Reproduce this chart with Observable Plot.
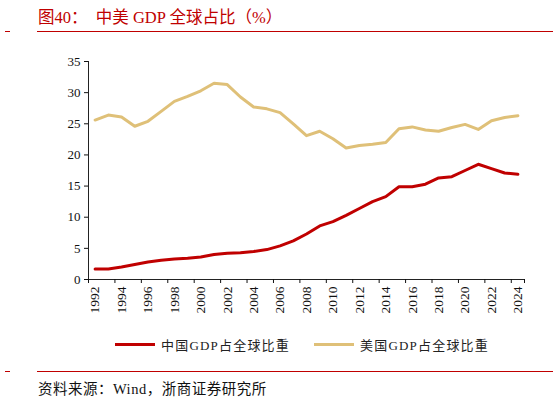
<!DOCTYPE html>
<html>
<head>
<meta charset="utf-8">
<script src="https://cdn.jsdelivr.net/npm/d3@7"></script>
<script src="https://cdn.jsdelivr.net/npm/@observablehq/plot@0.6"></script>
<style>
  body { margin: 0; background: #fff; width: 553px; height: 402px; position: relative; overflow: hidden;
         font-family: "Liberation Serif", "Noto Sans CJK SC", serif; }
  .abs { position: absolute; }
  .title { left: 38px; top: 4px; font-size: 16.5px; color: #c00000; white-space: pre; }
  .rule { height: 1.3px; background: #c00000; }
  .legend { top: 335px; font-size: 13px; letter-spacing: 1.2px; color: #222; display: flex; align-items: center; }
  .legend span.sw { display: inline-block; width: 40px; height: 3.5px; margin-right: 6px; }
  .source { left: 38px; top: 377px; font-size: 14.5px; letter-spacing: 0.5px; color: #111; }
  #chart { left: 0; top: 40px; }
</style>
</head>
<body>
<div class="abs title">图40：  中美 GDP 全球占比（%）</div>
<div class="abs rule" style="left:5px;top:31px;width:5px"></div>
<div class="abs rule" style="left:37px;top:31px;width:516px"></div>
<div id="legend"></div>
<div class="abs rule" style="left:5px;top:371px;width:5px"></div>
<div class="abs rule" style="left:37px;top:371px;width:516px"></div>
<div class="abs source">资料来源：Wind，浙商证券研究所</div>
<div id="chart" class="abs"></div>
<script>
// Years and shares of world GDP (%)
const years = d3.range(1992, 2025);
const chinaShare = [1.7, 1.7, 2.0, 2.4, 2.8, 3.1, 3.3, 3.4, 3.6, 4.0, 4.2, 4.3, 4.5, 4.8, 5.4, 6.2, 7.3,
                    8.6, 9.3, 10.3, 11.4, 12.5, 13.3, 14.9, 14.9, 15.3, 16.3, 16.5, 17.5, 18.5, 17.8, 17.1, 16.9];
const usShare = [25.6, 26.4, 26.1, 24.6, 25.4, 27.0, 28.6, 29.4, 30.3, 31.5, 31.3, 29.3, 27.7, 27.4, 26.8, 25.0, 23.1,
                 23.8, 22.6, 21.1, 21.5, 21.7, 22.0, 24.2, 24.5, 24.0, 23.8, 24.4, 24.9, 24.1, 25.5, 26.0, 26.3];
const seriesNames = ['中国GDP占全球比重', '美国GDP占全球比重'];
const seriesColors = ['#c00000', '#dfc078'];
const yTicks = [0, 5, 10, 15, 20, 25, 30, 35];
const xLabels = years.filter(y => y % 2 === 0);

const rows = [];
years.forEach((yr, i) => {
  rows.push({ year: yr, value: chinaShare[i], series: seriesNames[0] });
  rows.push({ year: yr, value: usShare[i], series: seriesNames[1] });
});

// category boundaries (Excel-style axis: ticks between categories)
const boundaries = d3.range(years[0] - 0.5, years[years.length - 1] + 1, 2).concat([years[years.length - 1] + 0.5]);

const font = "'Liberation Serif', 'Noto Sans CJK SC', serif";

const chart = Plot.plot({
  width: 553,
  height: 285,
  marginLeft: 88,
  marginRight: 29,
  marginTop: 21,
  marginBottom: 46,
  style: { background: 'transparent', fontFamily: font, fontSize: '12px', color: '#111', overflow: 'visible' },
  x: { domain: [years[0] - 0.5, years[years.length - 1] + 0.5] },
  y: { domain: [0, 35] },
  color: { domain: seriesNames, range: seriesColors },
  marks: [
    Plot.ruleX([years[0] - 0.5], { stroke: '#222', strokeWidth: 1 }),
    Plot.ruleY([0], { stroke: '#222', strokeWidth: 1 }),
    Plot.axisY({ ticks: yTicks, tickSize: 4, tickPadding: 4, label: null, fontSize: 13 }),
    Plot.axisX({ ticks: boundaries, tickSize: 4, text: null, label: null }),
    Plot.axisX({ ticks: xLabels, tickSize: 0, tickPadding: 7, tickRotate: -90, tickFormat: d => String(d), label: null, fontSize: 13.5 }),
    Plot.line(rows, { x: 'year', y: 'value', z: 'series', stroke: 'series', strokeWidth: 3, curve: 'linear' })
  ]
});
document.getElementById('chart').appendChild(chart);

// legend
const legend = document.getElementById('legend');
const legendLeft = [115, 314];
seriesNames.forEach((name, i) => {
  const item = document.createElement('div');
  item.className = 'abs legend';
  item.style.left = legendLeft[i] + 'px';
  item.innerHTML = `<span class="sw" style="background:${seriesColors[i]}"></span>${name}`;
  legend.appendChild(item);
});
</script>
</body>
</html>
